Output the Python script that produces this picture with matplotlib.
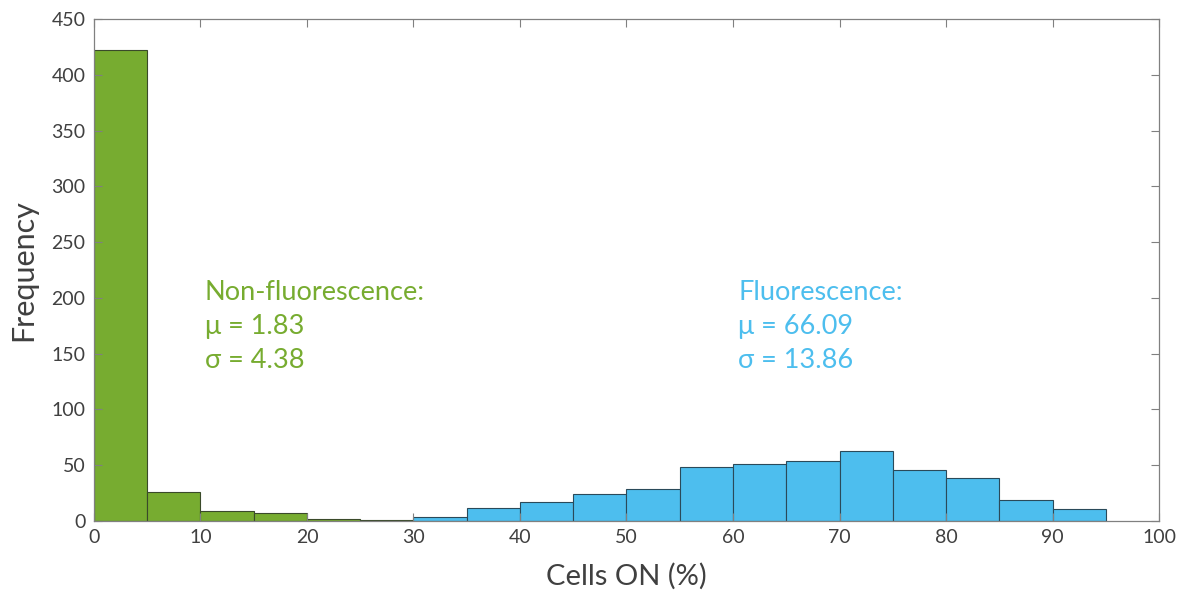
import numpy as np
from matplotlib import pyplot as plt

# histogram bins (5% wide) and counts
green_edges = [0, 5, 10, 15, 20, 25]
green_counts = [422, 26, 9, 7, 2, 1]
blue_edges = [30, 35, 40, 45, 50, 55, 60, 65, 70, 75, 80, 85, 90]
blue_counts = [4, 12, 17, 24, 29, 48, 51, 54, 63, 46, 39, 19, 11]

green = '#77AC30'
blue = '#4DBEEE'
text_gray = '#404040'
plt.rcParams['font.family'] = ['Lato', 'DejaVu Sans']

fig = plt.figure(figsize=(11.94, 5.96), dpi=100)
ax = fig.add_axes([0.0787, 0.1258, 0.892, 0.8422])

ax.bar(green_edges, green_counts, width=5, align='edge', color=green,
       edgecolor='#3a4a2a', linewidth=0.8)
ax.bar(blue_edges, blue_counts, width=5, align='edge', color=blue,
       edgecolor='#2a4a5a', linewidth=0.8)

ax.set_xlim(0, 100)
ax.set_ylim(0, 450)
ax.set_xticks(np.arange(0, 101, 10))
ax.set_yticks(np.arange(0, 451, 50))
ax.tick_params(direction='in', top=True, right=True, length=6, width=0.8,
               colors='#808080', labelcolor=text_gray, labelsize=14, pad=6)
for s in ax.spines.values():
    s.set_color('#808080')
    s.set_linewidth(0.9)

ax.set_xlabel('Cells ON (%)', fontsize=21, color=text_gray, labelpad=12)
ax.set_ylabel('Frequency', fontsize=22, color=text_gray, labelpad=10)

ax.text(10.4, 174, 'Non-fluorescence:\nμ = 1.83\nσ = 4.38', color=green,
        fontsize=19.5, va='center', ha='left', linespacing=1.45)
ax.text(60.5, 174, 'Fluorescence:\nμ = 66.09\nσ = 13.86', color=blue,
        fontsize=19.5, va='center', ha='left', linespacing=1.45)

plt.savefig('out.png', dpi=100)
